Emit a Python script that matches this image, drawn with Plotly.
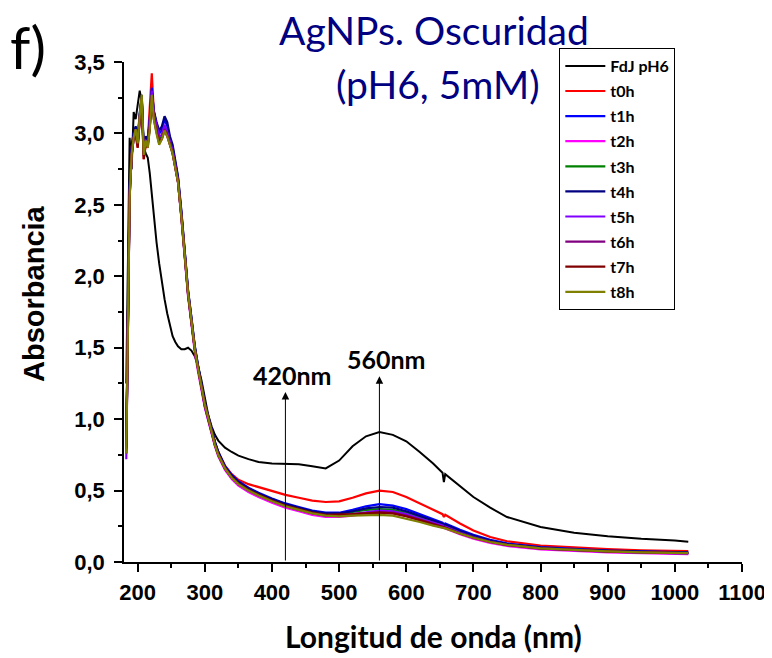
import plotly.graph_objects as go

# ---------------- data ----------------
wavelength = [183, 185, 188, 191, 194, 197, 200, 203, 206, 209, 212, 215, 218, 221, 224, 228,
              232, 236, 240, 244, 248, 252, 256, 260, 265, 270, 275, 280, 285, 290, 295,
              300, 305, 310, 315, 320, 330, 340, 350, 365, 380, 400, 420, 440, 460, 480, 500,
              520, 540, 560, 580, 600, 620, 640, 654, 656, 658, 680, 700, 725, 750, 800, 850,
              900, 950, 1000, 1020]

fdj_ph6 = [1.25, 2.10, 2.97, 2.75, 3.15, 3.10, 3.20, 3.30, 3.22, 2.90, 2.86, 2.83, 2.72, 2.58, 2.40, 2.24,
           2.09, 1.96, 1.84, 1.74, 1.65, 1.58, 1.54, 1.51, 1.49, 1.49, 1.50, 1.48, 1.44, 1.37, 1.27,
           1.15, 1.03, 0.95, 0.89, 0.85, 0.80, 0.77, 0.745, 0.72, 0.70, 0.69, 0.69, 0.685, 0.67, 0.655, 0.71,
           0.81, 0.88, 0.91, 0.89, 0.845, 0.77, 0.69, 0.625, 0.56, 0.615, 0.53, 0.455, 0.38, 0.315, 0.245, 0.205,
           0.18, 0.162, 0.15, 0.142]

t0h = [0.85, 1.75, 2.60, 2.90, 3.00, 2.98, 2.90, 3.10, 3.20, 2.82, 2.92, 2.95, 3.15, 3.42, 3.15, 3.05,
       2.98, 2.98, 3.05, 3.00, 2.95, 2.88, 2.78, 2.68, 2.44, 2.14, 1.89, 1.70, 1.50, 1.36, 1.22,
       1.11, 1.02, 0.92, 0.84, 0.77, 0.675, 0.615, 0.575, 0.545, 0.525, 0.495, 0.47, 0.45, 0.43, 0.42, 0.425,
       0.45, 0.48, 0.50, 0.49, 0.455, 0.41, 0.37, 0.335, 0.315, 0.33, 0.27, 0.22, 0.175, 0.145, 0.115, 0.10,
       0.09, 0.082, 0.078, 0.076]

t1h = [0.80, 1.72, 2.62, 2.88, 3.00, 3.02, 2.95, 3.12, 3.25, 2.88, 2.97, 2.96, 3.10, 3.32, 3.15, 3.07,
       3.00, 3.02, 3.10, 3.05, 2.96, 2.90, 2.80, 2.69, 2.45, 2.15, 1.90, 1.71, 1.51, 1.37, 1.23,
       1.11, 1.02, 0.92, 0.84, 0.77, 0.67, 0.61, 0.565, 0.52, 0.485, 0.445, 0.41, 0.385, 0.36, 0.345, 0.345,
       0.365, 0.39, 0.405, 0.395, 0.37, 0.335, 0.30, 0.275, 0.265, 0.27, 0.225, 0.19, 0.155, 0.13, 0.105, 0.09,
       0.08, 0.074, 0.07, 0.068]

t2h = [0.78, 1.68, 2.58, 2.86, 2.98, 3.00, 2.92, 3.10, 3.22, 2.86, 2.95, 2.93, 3.06, 3.25, 3.12, 3.05,
       2.97, 2.98, 3.04, 3.00, 2.94, 2.87, 2.77, 2.66, 2.41, 2.11, 1.86, 1.67, 1.47, 1.33, 1.20,
       1.08, 0.99, 0.89, 0.81, 0.74, 0.645, 0.58, 0.535, 0.49, 0.455, 0.415, 0.38, 0.355, 0.33, 0.315, 0.315,
       0.325, 0.34, 0.345, 0.34, 0.32, 0.29, 0.26, 0.24, 0.235, 0.235, 0.195, 0.163, 0.133, 0.112, 0.088, 0.076,
       0.068, 0.062, 0.057, 0.055]

t3h = [0.79, 1.70, 2.60, 2.87, 2.99, 3.04, 2.94, 3.13, 3.26, 2.87, 2.96, 2.92, 3.05, 3.28, 3.13, 3.03,
       2.95, 2.98, 3.05, 3.00, 2.93, 2.87, 2.77, 2.67, 2.43, 2.13, 1.88, 1.69, 1.50, 1.36, 1.22,
       1.10, 1.01, 0.91, 0.83, 0.76, 0.66, 0.60, 0.555, 0.51, 0.475, 0.435, 0.40, 0.375, 0.35, 0.335, 0.335,
       0.35, 0.365, 0.37, 0.365, 0.345, 0.315, 0.28, 0.26, 0.25, 0.255, 0.21, 0.178, 0.146, 0.123, 0.098, 0.085,
       0.076, 0.07, 0.066, 0.064]

t4h = [0.81, 1.73, 2.63, 2.90, 3.01, 3.05, 2.96, 3.14, 3.27, 2.90, 2.98, 2.95, 3.08, 3.30, 3.16, 3.08,
       3.02, 3.05, 3.12, 3.08, 2.98, 2.92, 2.81, 2.70, 2.46, 2.16, 1.90, 1.71, 1.51, 1.37, 1.23,
       1.11, 1.02, 0.92, 0.84, 0.77, 0.665, 0.605, 0.56, 0.515, 0.48, 0.44, 0.405, 0.38, 0.355, 0.34, 0.34,
       0.355, 0.375, 0.385, 0.38, 0.355, 0.325, 0.29, 0.268, 0.258, 0.262, 0.217, 0.183, 0.15, 0.126, 0.10, 0.087,
       0.078, 0.072, 0.068, 0.066]

t5h = [0.72, 1.62, 2.55, 2.84, 2.97, 3.02, 2.93, 3.12, 3.24, 2.86, 2.95, 2.94, 3.08, 3.30, 3.14, 3.06,
       2.98, 2.99, 3.06, 3.01, 2.94, 2.88, 2.78, 2.67, 2.43, 2.13, 1.88, 1.68, 1.49, 1.35, 1.21,
       1.09, 1.00, 0.90, 0.82, 0.75, 0.655, 0.59, 0.545, 0.50, 0.465, 0.425, 0.39, 0.365, 0.34, 0.325, 0.325,
       0.335, 0.35, 0.36, 0.355, 0.335, 0.305, 0.275, 0.255, 0.245, 0.248, 0.205, 0.173, 0.142, 0.12, 0.095, 0.082,
       0.073, 0.067, 0.063, 0.061]

t6h = [0.76, 1.66, 2.57, 2.85, 2.97, 3.03, 2.92, 3.11, 3.25, 2.84, 2.94, 2.92, 3.05, 3.27, 3.12, 3.02,
       2.94, 2.97, 3.03, 2.99, 2.92, 2.86, 2.76, 2.66, 2.42, 2.12, 1.87, 1.68, 1.49, 1.35, 1.21,
       1.09, 1.00, 0.90, 0.82, 0.75, 0.655, 0.59, 0.545, 0.50, 0.465, 0.425, 0.39, 0.365, 0.34, 0.325, 0.325,
       0.335, 0.345, 0.35, 0.345, 0.325, 0.297, 0.267, 0.248, 0.24, 0.242, 0.20, 0.17, 0.14, 0.118, 0.093, 0.08,
       0.072, 0.066, 0.062, 0.06]

t7h = [0.80, 1.70, 2.56, 2.85, 2.96, 3.02, 2.90, 3.10, 3.24, 2.82, 2.93, 2.90, 3.04, 3.26, 3.10, 3.01,
       2.93, 2.96, 3.02, 2.98, 2.92, 2.86, 2.76, 2.66, 2.42, 2.12, 1.88, 1.68, 1.49, 1.35, 1.21,
       1.10, 1.01, 0.91, 0.82, 0.75, 0.655, 0.595, 0.55, 0.505, 0.47, 0.43, 0.395, 0.37, 0.345, 0.33, 0.33,
       0.335, 0.34, 0.345, 0.34, 0.32, 0.293, 0.265, 0.245, 0.238, 0.24, 0.20, 0.17, 0.14, 0.12, 0.095, 0.083,
       0.075, 0.069, 0.064, 0.063]

t8h = [0.76, 1.65, 2.55, 2.85, 2.97, 3.03, 2.93, 3.12, 3.27, 2.85, 2.95, 2.90, 3.03, 3.27, 3.10, 3.00,
       2.92, 2.96, 3.02, 2.98, 2.92, 2.86, 2.76, 2.66, 2.42, 2.13, 1.88, 1.69, 1.49, 1.35, 1.21,
       1.10, 1.01, 0.91, 0.82, 0.75, 0.655, 0.59, 0.545, 0.50, 0.465, 0.425, 0.39, 0.365, 0.34, 0.325, 0.32,
       0.325, 0.33, 0.33, 0.325, 0.305, 0.28, 0.255, 0.24, 0.235, 0.235, 0.20, 0.17, 0.14, 0.12, 0.095, 0.083,
       0.074, 0.068, 0.063, 0.062]

series_names = ["FdJ pH6", "t0h", "t1h", "t2h", "t3h", "t4h", "t5h", "t6h", "t7h", "t8h"]
series_values = [fdj_ph6, t0h, t1h, t2h, t3h, t4h, t5h, t6h, t7h, t8h]
series_colors = ["#000000", "#FF0000", "#0000FF", "#FF00FF", "#008000",
                 "#000080", "#8000FF", "#800080", "#800000", "#808000"]

peak_wl = [420, 560]          # marked wavelengths (nm)
peak_labels = ["420nm", "560nm"]
arrow_tops = [1.19, 1.30]     # absorbance where the arrow heads end

x_ticks = [200, 300, 400, 500, 600, 700, 800, 900, 1000, 1100]

# ---------------- figure ----------------
fig = go.Figure()
for name, vals, col in zip(series_names, series_values, series_colors):
    fig.add_trace(go.Scatter(
        x=wavelength, y=vals, mode="lines", name=name, legendgroup=name,
        line=dict(color=col, width=2.2 if name != "FdJ pH6" else 2),
    ))

tick_font = dict(family="Liberation Sans, Arial, sans-serif", size=22, color="black", weight="bold")

# the page body has an 8px default margin, so the margins compensate for it
fig.update_layout(
    width=772, height=658,
    margin=dict(l=116, r=38, t=54, b=104),
    paper_bgcolor="white", plot_bgcolor="white",
    separators=",.",
    showlegend=True,
    legend=dict(
        x=0.7044, y=1.028, xanchor="left", yanchor="top",
        bgcolor="white", bordercolor="black", borderwidth=1,
        font=dict(family="Lato, sans-serif", size=16, color="black", weight="bold"),
        itemwidth=40, tracegroupgap=1.3,
    ),
    xaxis=dict(
        range=[179.6, 1100], tickmode="array", tickvals=x_ticks,
        ticks="outside", ticklen=8, tickwidth=1.5, tickcolor="black",
        showline=True, linecolor="black", linewidth=1.5,
        showgrid=False, zeroline=False, tickfont=tick_font,
        ticklabelstandoff=2,
        minor=dict(ticks="outside", ticklen=4, tickwidth=1.5, tickcolor="black",
                   dtick=50, tick0=150, showgrid=False),
    ),
    yaxis=dict(
        range=[0, 3.5], tickmode="linear", tick0=0, dtick=0.5, tickformat=".1f",
        ticks="outside", ticklen=8, tickwidth=1.5, tickcolor="black",
        showline=True, linecolor="black", linewidth=1.5,
        showgrid=False, zeroline=False, tickfont=tick_font,
        ticklabelstandoff=5,
        minor=dict(ticks="outside", ticklen=4, tickwidth=1.5, tickcolor="black",
                   dtick=0.25, tick0=0, showgrid=False),
    ),
)

annotations = []
for wl, top, lab in zip(peak_wl, arrow_tops, peak_labels):
    annotations.append(dict(
        x=wl, y=top, ax=wl, ay=0, xref="x", yref="y", axref="x", ayref="y",
        text="", showarrow=True, arrowhead=2, arrowsize=1.5, arrowwidth=1,
        arrowcolor="black", standoff=0, startstandoff=0,
    ))
    annotations.append(dict(
        x=wl + 10, y=top, xref="x", yref="y", xanchor="center", yanchor="bottom",
        text=lab, showarrow=False,
        font=dict(family="Lato, sans-serif", size=25, color="black", weight="bold"),
    ))

annotations += [
    dict(x=0.501, y=1.064, xref="paper", yref="paper", xanchor="center", yanchor="middle",
         text="AgNPs. Oscuridad", showarrow=False, borderpad=0,
         font=dict(family="Lato, sans-serif", size=39, color="#000080")),
    dict(x=0.5076, y=0.956, xref="paper", yref="paper", xanchor="center", yanchor="middle",
         text="(pH6, 5mM)", showarrow=False, borderpad=0,
         font=dict(family="Lato, sans-serif", size=39, color="#000080")),
    dict(x=-0.156, y=1.03, xref="paper", yref="paper", xanchor="center", yanchor="middle",
         text="f)", showarrow=False,
         font=dict(family="Lato, sans-serif", size=58, color="black")),
    dict(x=-0.1457, y=0.538, xref="paper", yref="paper", xanchor="center", yanchor="middle",
         text="Absorbancia", textangle=-90, showarrow=False,
         font=dict(family="Liberation Sans, Arial, sans-serif", size=29, color="black", weight="bold")),
    dict(x=0.5, y=-0.148, xref="paper", yref="paper", xanchor="center", yanchor="middle",
         text="Longitud de onda (nm)", showarrow=False,
         font=dict(family="Lato, sans-serif", size=30, color="black", weight="bold")),
]
fig.update_layout(annotations=annotations)

fig.write_html("out.html", config={"displayModeBar": False})
